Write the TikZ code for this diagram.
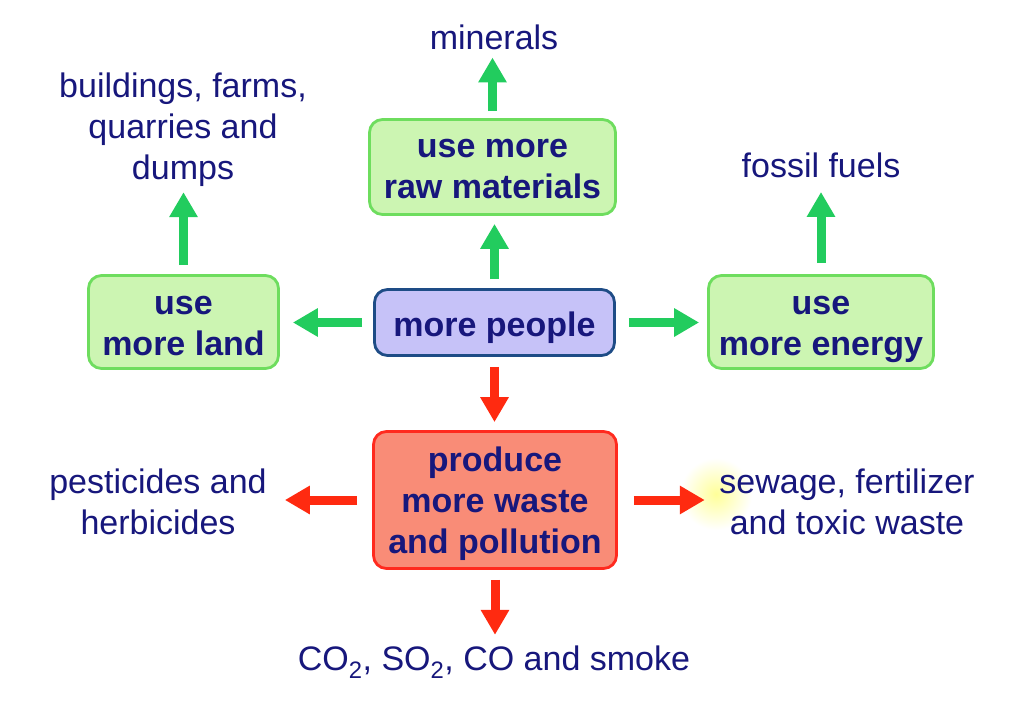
\documentclass[tikz,border=0pt]{standalone}
\usepackage{fontspec}
\setmainfont{Liberation Sans}
\usetikzlibrary{arrows.meta}
\definecolor{navy}{HTML}{17177C}
\definecolor{gfill}{HTML}{CCF5B2}
\definecolor{gline}{HTML}{6EDD5E}
\definecolor{pfill}{HTML}{C6C2F8}
\definecolor{pline}{HTML}{1E4C86}
\definecolor{rfill}{HTML}{F98C77}
\definecolor{rline}{HTML}{FF2A1E}
\definecolor{garrow}{HTML}{22CC5E}
\definecolor{rarrow}{HTML}{FF2A10}
\newcommand\bx[2][-3pt]{\raisebox{#1}[\height][\depth]{\begin{tabular}{@{}c@{}}#2\end{tabular}}}
\tikzset{
  box/.style={rounded corners=13pt, line width=2.8pt, text=navy,
    font=\fontsize{34}{41}\selectfont\bfseries, inner sep=0pt},
  greenbox/.style={box, draw=gline, fill=gfill},
  lbl/.style={text=navy, font=\fontsize{34}{41}\selectfont, inner sep=0pt},
  garr/.style={draw=garrow, line width=9pt, -{Triangle[width=27pt,length=25pt]}},
  rarr/.style={draw=rarrow, line width=9pt, -{Triangle[width=27pt,length=25pt]}},
}
\begin{document}
\begin{tikzpicture}[x=1pt,y=-1pt]
\useasboundingbox (0,0) rectangle (1009,714);
\fill[white] (0,0) rectangle (1009,714);
\shade[inner color=yellow!40!white, outer color=white] (716,494) circle (36);
% boxes
\node[greenbox, minimum width=246pt, minimum height=95pt] (raw) at (492.5,167) {\bx[-3pt]{use more\\raw materials}};
\node[box, draw=pline, fill=pfill, minimum width=240pt, minimum height=66pt] (people) at (494.5,322.5) {\bx[-6pt]{more people}};
\node[greenbox, minimum width=190pt, minimum height=93pt] (land) at (183.5,322) {\bx[-5pt]{use\\more land}};
\node[greenbox, minimum width=225pt, minimum height=93pt] (energy) at (821,322) {\bx[-5pt]{use\\more energy}};
\node[box, draw=rline, fill=rfill, minimum width=243pt, minimum height=137pt] (waste) at (495,500) {\bx[-4.5pt]{produce\\more waste\\and pollution}};
% labels
\node[lbl] (minerals) at (494,38.8) {\bx{minerals}};
\node[lbl] (buildings) at (183,127) {\bx{buildings, farms,\\quarries and\\dumps}};
\node[lbl] (fossil) at (821,166.8) {\bx{fossil fuels}};
\node[lbl] (pest) at (158,503) {\bx{pesticides and\\herbicides}};
\node[lbl] (sewage) at (847,503) {\bx{sewage, fertilizer\\and toxic waste}};
\node[lbl] (gases) at (494,659) {\bx{CO\textsubscript{2}, SO\textsubscript{2}, CO and smoke}};
% arrows
\draw[garr, shorten <=9pt, shorten >=8pt] (people.north) -- (people.north |- raw.south);
\draw[garr, shorten <=7pt, shorten >=-2pt] (raw.north) -- (raw.north |- minerals.south);
\draw[garr, shorten <=11pt, shorten >=13pt] (people.west) -- (people.west -| land.east);
\draw[garr, shorten <=13pt, shorten >=8pt] (people.east) -- (people.east -| energy.west);
\draw[garr, shorten <=9pt, shorten >=3.5pt] (land.north) -- (land.north |- buildings.south);
\draw[garr, shorten <=11pt, shorten >=4.5pt] (energy.north) -- (energy.north |- fossil.south);
\draw[rarr, shorten <=10pt, shorten >=8pt] (people.south) -- (people.south |- waste.north);
\draw[rarr, shorten <=15pt, shorten >=18pt] (waste.west) -- (waste.west -| pest.east);
\draw[rarr, shorten <=16pt, shorten >=14.5pt] (waste.east) -- (waste.east -| sewage.west);
\draw[rarr, shorten <=10pt, shorten >=3.5pt] (waste.south) -- (waste.south |- gases.north);
\end{tikzpicture}
\end{document}
